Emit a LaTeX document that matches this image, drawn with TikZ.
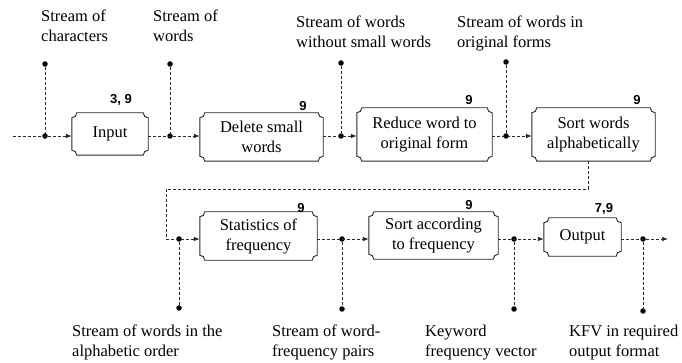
\documentclass[tikz,border=0pt]{standalone}
\usepackage{fontspec}
\setmainfont{Liberation Serif}
\setsansfont{Liberation Sans}
\usetikzlibrary{arrows.meta}

% radius of the concave box corners
\def\nr{5}
\newcommand{\notchframe}[1]{%
  \draw[frame] ([xshift=\nr pt]#1.north west) -- ([xshift=-\nr pt]#1.north east)
    arc[start angle=180,end angle=90,radius=\nr]
    -- ([yshift=\nr pt]#1.south east)
    arc[start angle=270,end angle=180,radius=\nr]
    -- ([xshift=\nr pt]#1.south west)
    arc[start angle=0,end angle=-90,radius=\nr]
    -- ([yshift=-\nr pt]#1.north west)
    arc[start angle=90,end angle=0,radius=\nr] -- cycle;}

\begin{document}
\begin{tikzpicture}[x=1pt,y=-1pt,
  txt/.style={font=\fontsize{16.5}{20}\selectfont},
  lbl/.style={txt,align=left,inner sep=0pt,anchor=north west},
  proc/.style={txt,align=center,inner sep=0pt},
  num/.style={font=\fontsize{13}{15}\selectfont\sffamily\bfseries,inner sep=0pt},
  frame/.style={draw=black!85,line width=0.9pt},
  flow/.style={draw=black!85,line width=0.7pt,dash pattern=on 3pt off 2pt},
  arr/.style={flow,-{Latex[length=6pt,width=4.5pt]}},
  dot/.style={fill=black,circle,inner sep=0pt,minimum size=5.5pt}]

\useasboundingbox (0,0) rectangle (682,363);

% process boxes
\node[proc,minimum width=76pt,minimum height=42pt] (inp) at (110,134) {Input};
\node[proc,minimum width=123pt,minimum height=48pt] (del) at (261.5,137) {Delete small\\words};
\node[proc,minimum width=135pt,minimum height=53pt] (red) at (424.5,134.5) {Reduce word to\\original form};
\node[proc,minimum width=123pt,minimum height=53pt] (srt) at (593.5,134.5) {Sort words\\alphabetically};
\node[proc,minimum width=117pt,minimum height=48pt] (sta) at (258.5,236) {Statistics of\\frequency};
\node[proc,minimum width=129pt,minimum height=47pt] (sfr) at (433.5,235.5) {Sort according\\to frequency};
\node[proc,minimum width=77pt,minimum height=38pt] (out) at (582.5,237) {Output};
\foreach \b in {inp,del,red,srt,sta,sfr,out} {\notchframe{\b}}

% figure numbers over the boxes
\node[num] (n1) at (121,100) {3, 9};
\node[num] (n2) at (303,106) {9};
\node[num] (n3) at (469,100) {9};
\node[num] (n4) at (637,100) {9};
\node[num] (n5) at (301,208) {9};
\node[num] (n6) at (469,205) {9};
\node[num] (n7) at (604,209) {7,9};

% junction points and tap ends
\coordinate (s0) at (13,136);
\node[dot] (c1) at (45,136) {};
\node[dot] (c2) at (170,136) {};
\node[dot] (c3) at (341,136) {};
\node[dot] (c4) at (506,136) {};
\node[dot] (t1) at (45,64) {};
\node[dot] (t2) at (170,64) {};
\node[dot] (t3) at (341,63) {};
\node[dot] (t4) at (506,62) {};
\node[dot] (b1) at (179,239) {};
\node[dot] (b2) at (342,239) {};
\node[dot] (b3) at (514,239) {};
\node[dot] (b4) at (643,239) {};
\node[dot] (u1) at (179,308) {};
\node[dot] (u2) at (342,309) {};
\node[dot] (u3) at (514,309) {};
\node[dot] (u4) at (643,311) {};
\coordinate (k1) at (588,189);
\coordinate (k2) at (166,239);
\coordinate (e0) at (668,239);

% data flow, first row
\draw[arr] (s0) -- (inp.west |- c1);
\draw[arr] (inp.east |- c2) -- (del.west |- c2);
\draw[arr] (del.east |- c3) -- (red.west |- c3);
\draw[arr] (red.east |- c4) -- (srt.west |- c4);
% wrap to the second row
\draw[arr] (srt.south -| k1) -- (k1) -- (k1 -| k2) -- (k2) -- (sta.west |- k2);
% data flow, second row
\draw[arr] (sta.east |- b2) -- (sfr.west |- b2);
\draw[arr] (sfr.east |- b3) -- (out.west |- b3);
\draw[arr] (out.east |- b4) -- (e0);

% taps to the data labels
\draw[flow] (t1) -- (c1);
\draw[flow] (t2) -- (c2);
\draw[flow] (t3) -- (c3);
\draw[flow] (t4) -- (c4);
\draw[flow] (b1) -- (u1);
\draw[flow] (b2) -- (u2);
\draw[flow] (b3) -- (u3);
\draw[flow] (b4) -- (u4);

% data labels
\node[lbl] (l1) at (41,9.7) {Stream of\\characters};
\node[lbl] (l2) at (153,9.7) {Stream of\\words};
\node[lbl] (l3) at (296,15.7) {Stream of words\\without small words};
\node[lbl] (l4) at (457,15.7) {Stream of words in\\original forms};
\node[lbl] (l5) at (72,325) {Stream of words in the\\alphabetic order};
\node[lbl] (l6) at (272,325) {Stream of word-\\frequency pairs};
\node[lbl] (l7) at (425,325) {Keyword\\frequency vector};
\node[lbl] (l8) at (569,325) {KFV in required\\output format};
\end{tikzpicture}
\end{document}
